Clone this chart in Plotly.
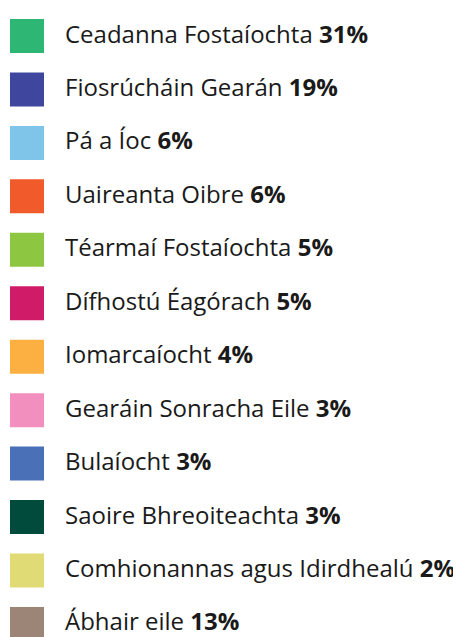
import plotly.graph_objects as go

categories = [
    "Ceadanna Fostaíochta", "Fiosrúcháin Gearán", "Pá a Íoc", "Uaireanta Oibre",
    "Téarmaí Fostaíochta", "Dífhostú Éagórach", "Iomarcaíocht",
    "Gearáin Sonracha Eile", "Bulaíocht", "Saoire Bhreoiteachta",
    "Comhionannas agus Idirdhealú", "Ábhair eile",
]
percentages = [31, 19, 6, 6, 5, 5, 4, 3, 3, 3, 2, 13]
colors = [
    "#2EB774", "#3E479D", "#7FC5E9", "#F15A2B", "#8DC641", "#CF1B68",
    "#FBB041", "#F28FBE", "#4A71B8", "#004B3C", "#E1DB76", "#9C8577",
]

n = len(categories)
idx = list(range(n))

fig = go.Figure()
fig.add_trace(go.Scatter(
    x=[0] * n, y=idx, mode="markers",
    marker=dict(symbol="square", size=34, color=colors, line=dict(width=0)),
    hoverinfo="skip", showlegend=False,
))

for i, (c, p) in enumerate(zip(categories, percentages)):
    fig.add_annotation(
        x=0, y=i, xref="x", yref="y", xshift=36, yshift=3,
        xanchor="left", yanchor="middle",
        text=f"{c} <b>{p}%</b>", showarrow=False,
        font=dict(family="Open Sans", size=24, color="#1a1a1a"),
    )

fig.update_layout(
    width=453, height=629,
    margin=dict(l=0, r=0, t=0, b=0),
    paper_bgcolor="white", plot_bgcolor="white",
    xaxis=dict(range=[-19, 434], visible=False, fixedrange=True),
    yaxis=dict(range=[11.244, -0.524], visible=False, fixedrange=True),
)

fig.write_html("out.html", config={"displayModeBar": False})
